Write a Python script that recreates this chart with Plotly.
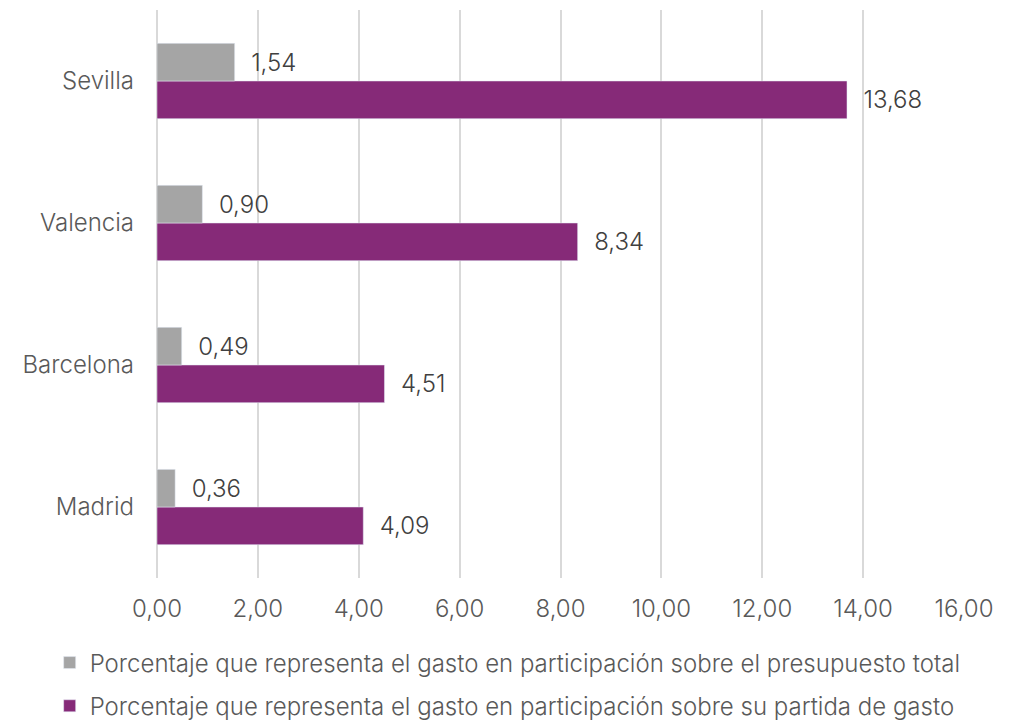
import plotly.graph_objects as go

ciudades = ["Madrid", "Barcelona", "Valencia", "Sevilla"]
pct_presupuesto_total = [0.36, 0.49, 0.90, 1.54]
pct_partida_gasto = [4.09, 4.51, 8.34, 13.68]

nombre_total = "Porcentaje que representa el gasto en participación sobre el presupuesto total"
nombre_partida = "Porcentaje que representa el gasto en participación sobre su partida de gasto"


def fmt(v):
    return "  " + f"{v:.2f}".replace(".", ",")


fig = go.Figure()
# purple first so it sits below the gray bar in each group
fig.add_trace(go.Bar(
    y=ciudades, x=pct_partida_gasto, orientation="h", name=nombre_partida,
    marker_color="#862A78", text=[fmt(v) for v in pct_partida_gasto],
    textposition="outside", legendrank=2, legendgroup="b", cliponaxis=False,
))
fig.add_trace(go.Bar(
    y=ciudades, x=pct_presupuesto_total, orientation="h", name=nombre_total,
    marker_color="#A5A5A5", text=[fmt(v) for v in pct_presupuesto_total],
    textposition="outside", legendrank=1, legendgroup="a", cliponaxis=False,
))

fig.update_layout(
    width=1016, height=721,
    barmode="group", bargap=0.47, bargroupgap=0,
    separators=",.",
    plot_bgcolor="white", paper_bgcolor="white",
    font=dict(family="Inter, Roboto, sans-serif", size=24, color="#595959", weight=300),
    # page body adds an 8px offset, so margins are trimmed to compensate
    margin=dict(l=149, r=60, t=2, b=151, autoexpand=False),
    legend=dict(
        orientation="v", x=-0.133, xanchor="left", y=-0.11, yanchor="top",
        font=dict(size=24, color="#595959", weight=300), tracegroupgap=9,
        itemwidth=30,
    ),
    xaxis=dict(
        range=[0, 16], dtick=2, tickformat=".2f", showgrid=True,
        gridcolor="#D9D9D9", gridwidth=1.5, zeroline=True, zerolinecolor="#D9D9D9",
        zerolinewidth=1.5, showline=False, ticks="", ticklabelstandoff=14,
        tickfont=dict(size=24, color="#595959", weight=300),
    ),
    yaxis=dict(
        showgrid=False, showline=False, ticks="", ticklabelstandoff=22,
        tickfont=dict(size=24, color="#595959", weight=300),
    ),
)
fig.update_traces(textfont=dict(size=24, color="#404040", weight=300))

fig.write_html("out.html")
